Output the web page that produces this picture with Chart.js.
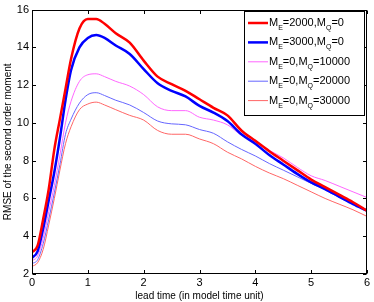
<!DOCTYPE html>
<html>
<head>
<meta charset="utf-8">
<script src="https://cdn.jsdelivr.net/npm/chart.js@4/dist/chart.umd.min.js"></script>
<style>
  html, body { margin: 0; padding: 0; background: #fff; }
  #wrap { width: 374px; height: 302px; }
</style>
</head>
<body>
<div id="wrap"><canvas id="chart"></canvas></div>
<script>
const leadTime = [0, 0.1, 0.2, 0.3, 0.4, 0.5, 0.6, 0.7, 0.85, 1.0, 1.15, 1.3, 1.5, 1.75, 2.0, 2.25, 2.5, 2.75, 3.0, 3.25, 3.5, 3.75, 4.0, 4.25, 4.5, 4.75, 5.0, 5.25, 5.5, 5.75, 6.0];

const rmseE2000 = [3.15, 3.5, 4.9, 6.5, 8.6, 10.2, 11.8, 13.4, 15.0, 15.5, 15.5, 15.25, 14.75, 14.25, 13.3, 12.45, 12.05, 11.7, 11.25, 10.8, 10.4, 9.6, 9.05, 8.5, 8.0, 7.5, 7.0, 6.6, 6.2, 5.8, 5.35];
const rmseE3000 = [2.85, 3.2, 4.4, 5.9, 7.4, 9.2, 11.2, 12.8, 14.0, 14.5, 14.65, 14.5, 14.1, 13.65, 12.85, 12.1, 11.7, 11.4, 10.9, 10.55, 10.1, 9.4, 8.9, 8.3, 7.8, 7.3, 6.85, 6.5, 6.1, 5.7, 5.35];
const rmseQ10000 = [2.7, 2.95, 3.9, 5.3, 6.7, 8.3, 10.0, 11.15, 12.2, 12.55, 12.6, 12.45, 12.2, 11.95, 11.5, 10.85, 10.65, 10.65, 10.3, 10.15, 9.9, 9.35, 9.0, 8.55, 8.15, 7.65, 7.2, 6.95, 6.65, 6.35, 6.05];
const rmseQ20000 = [2.55, 2.75, 3.6, 4.9, 6.3, 7.8, 9.4, 10.2, 11.05, 11.5, 11.6, 11.45, 11.2, 10.95, 10.55, 10.1, 9.95, 9.9, 9.65, 9.45, 9.0, 8.6, 8.25, 7.85, 7.5, 7.15, 6.8, 6.45, 6.05, 5.7, 5.4];
const rmseQ30000 = [2.4, 2.6, 3.3, 4.6, 6.0, 7.5, 8.9, 9.8, 10.7, 11.0, 11.1, 10.95, 10.7, 10.4, 10.15, 9.6, 9.4, 9.4, 9.15, 8.9, 8.45, 8.1, 7.7, 7.35, 7.05, 6.7, 6.35, 6.0, 5.7, 5.4, 5.05];

// legend text pieces, odd entries are subscripts
const seriesLabels = [
    ['M', 'E', '=2000,M', 'Q', '=0'],
    ['M', 'E', '=3000,M', 'Q', '=0'],
    ['M', 'E', '=0,M', 'Q', '=10000'],
    ['M', 'E', '=0,M', 'Q', '=20000'],
    ['M', 'E', '=0,M', 'Q', '=30000']
];
const seriesValues = [rmseE2000, rmseE3000, rmseQ10000, rmseQ20000, rmseQ30000];
const seriesColors = ['#ff0000', '#0000ff', '#ff66ff', '#6666ff', '#ff6666'];
const seriesWidths = [2.5, 2.5, 1, 1, 1];

const xTicks = [0, 1, 2, 3, 4, 5, 6];
const yTicks = [2, 4, 6, 8, 10, 12, 14, 16];

const FONT = '"Liberation Sans", Arial, sans-serif';

const boxPlugin = {
    id: 'box',
    afterDraw: (chart) => {
        const { ctx, chartArea: a, scales: { x, y } } = chart;
        const L = Math.round(a.left) + 0.5, R = Math.round(a.right) - 0.5;
        const T = Math.round(a.top) + 0.5, B = Math.round(a.bottom) - 0.5;
        ctx.save();
        ctx.strokeStyle = '#000';
        ctx.lineWidth = 1;
        ctx.strokeRect(L, T, R - L, B - T);
        ctx.beginPath();
        xTicks.forEach(v => {
            const px = Math.round(x.getPixelForValue(v)) + 0.5;
            ctx.moveTo(px, B); ctx.lineTo(px, B - 3.5);
            ctx.moveTo(px, T); ctx.lineTo(px, T + 3.5);
        });
        yTicks.forEach(v => {
            const py = Math.round(y.getPixelForValue(v)) + 0.5;
            ctx.moveTo(L, py); ctx.lineTo(L + 3.5, py);
            ctx.moveTo(R, py); ctx.lineTo(R - 3.5, py);
        });
        ctx.stroke();
        ctx.restore();
    }
};

const legendPlugin = {
    id: 'mlegend',
    afterDraw: (chart) => {
        const ctx = chart.ctx;
        const bx = 244.5, by = 11.5, bw = 120, bh = 104;
        ctx.save();
        ctx.fillStyle = '#fff';
        ctx.fillRect(bx, by, bw, bh);
        ctx.strokeStyle = '#000';
        ctx.lineWidth = 1;
        ctx.strokeRect(bx, by, bw, bh);
        seriesLabels.forEach((parts, i) => {
            const rowY = 23 + i * 19.4;
            ctx.strokeStyle = seriesColors[i];
            ctx.lineWidth = seriesWidths[i];
            ctx.beginPath();
            ctx.moveTo(248, rowY);
            ctx.lineTo(268, rowY);
            ctx.stroke();
            let tx = 269;
            ctx.fillStyle = '#000';
            ctx.textBaseline = 'middle';
            ctx.textAlign = 'left';
            parts.forEach((p, k) => {
                const isSub = k % 2 === 1;
                ctx.font = (isSub ? '7px ' : '11px ') + FONT;
                ctx.fillText(p, tx, isSub ? rowY + 5 : rowY);
                tx += ctx.measureText(p).width;
            });
        });
        ctx.restore();
    }
};

const datasets = seriesValues.map((vals, i) => ({
    label: seriesLabels[i].join(''),
    data: leadTime.map((t, k) => ({ x: t, y: vals[k] })),
    borderColor: seriesColors[i],
    borderWidth: seriesWidths[i],
    pointRadius: 0,
    fill: false,
    cubicInterpolationMode: 'monotone'
}));

new Chart(document.getElementById('chart'), {
    type: 'line',
    data: { datasets: datasets },
    plugins: [boxPlugin, legendPlugin],
    options: {
        responsive: true,
        maintainAspectRatio: false,
        animation: false,
        devicePixelRatio: 1,
        layout: { padding: { left: 0, right: 7, top: 9, bottom: 0 } },
        plugins: {
            legend: { display: false },
            tooltip: { enabled: false }
        },
        scales: {
            x: {
                type: 'linear',
                min: 0,
                max: 6,
                afterFit: (s) => { s.height = 28; },
                afterBuildTicks: (s) => { s.ticks = xTicks.map(v => ({ value: v })); },
                grid: { display: false, drawTicks: false },
                border: { display: false },
                ticks: { padding: 2, color: '#000', font: { family: FONT, size: 11 } },
                title: {
                    display: true,
                    text: 'lead time (in model time unit)',
                    color: '#000',
                    font: { family: FONT, size: 10 },
                    padding: { top: 1.5, bottom: 0 }
                }
            },
            y: {
                type: 'linear',
                min: 2,
                max: 16,
                afterFit: (s) => { s.width = 32; },
                afterBuildTicks: (s) => { s.ticks = yTicks.map(v => ({ value: v })); },
                grid: { display: false, drawTicks: false },
                border: { display: false },
                ticks: { padding: 3, color: '#000', font: { family: FONT, size: 11 } },
                title: {
                    display: true,
                    text: 'RMSE of the second order moment',
                    color: '#000',
                    font: { family: FONT, size: 10 },
                    padding: { top: 2, bottom: 0 }
                }
            }
        }
    }
});
</script>
</body>
</html>
